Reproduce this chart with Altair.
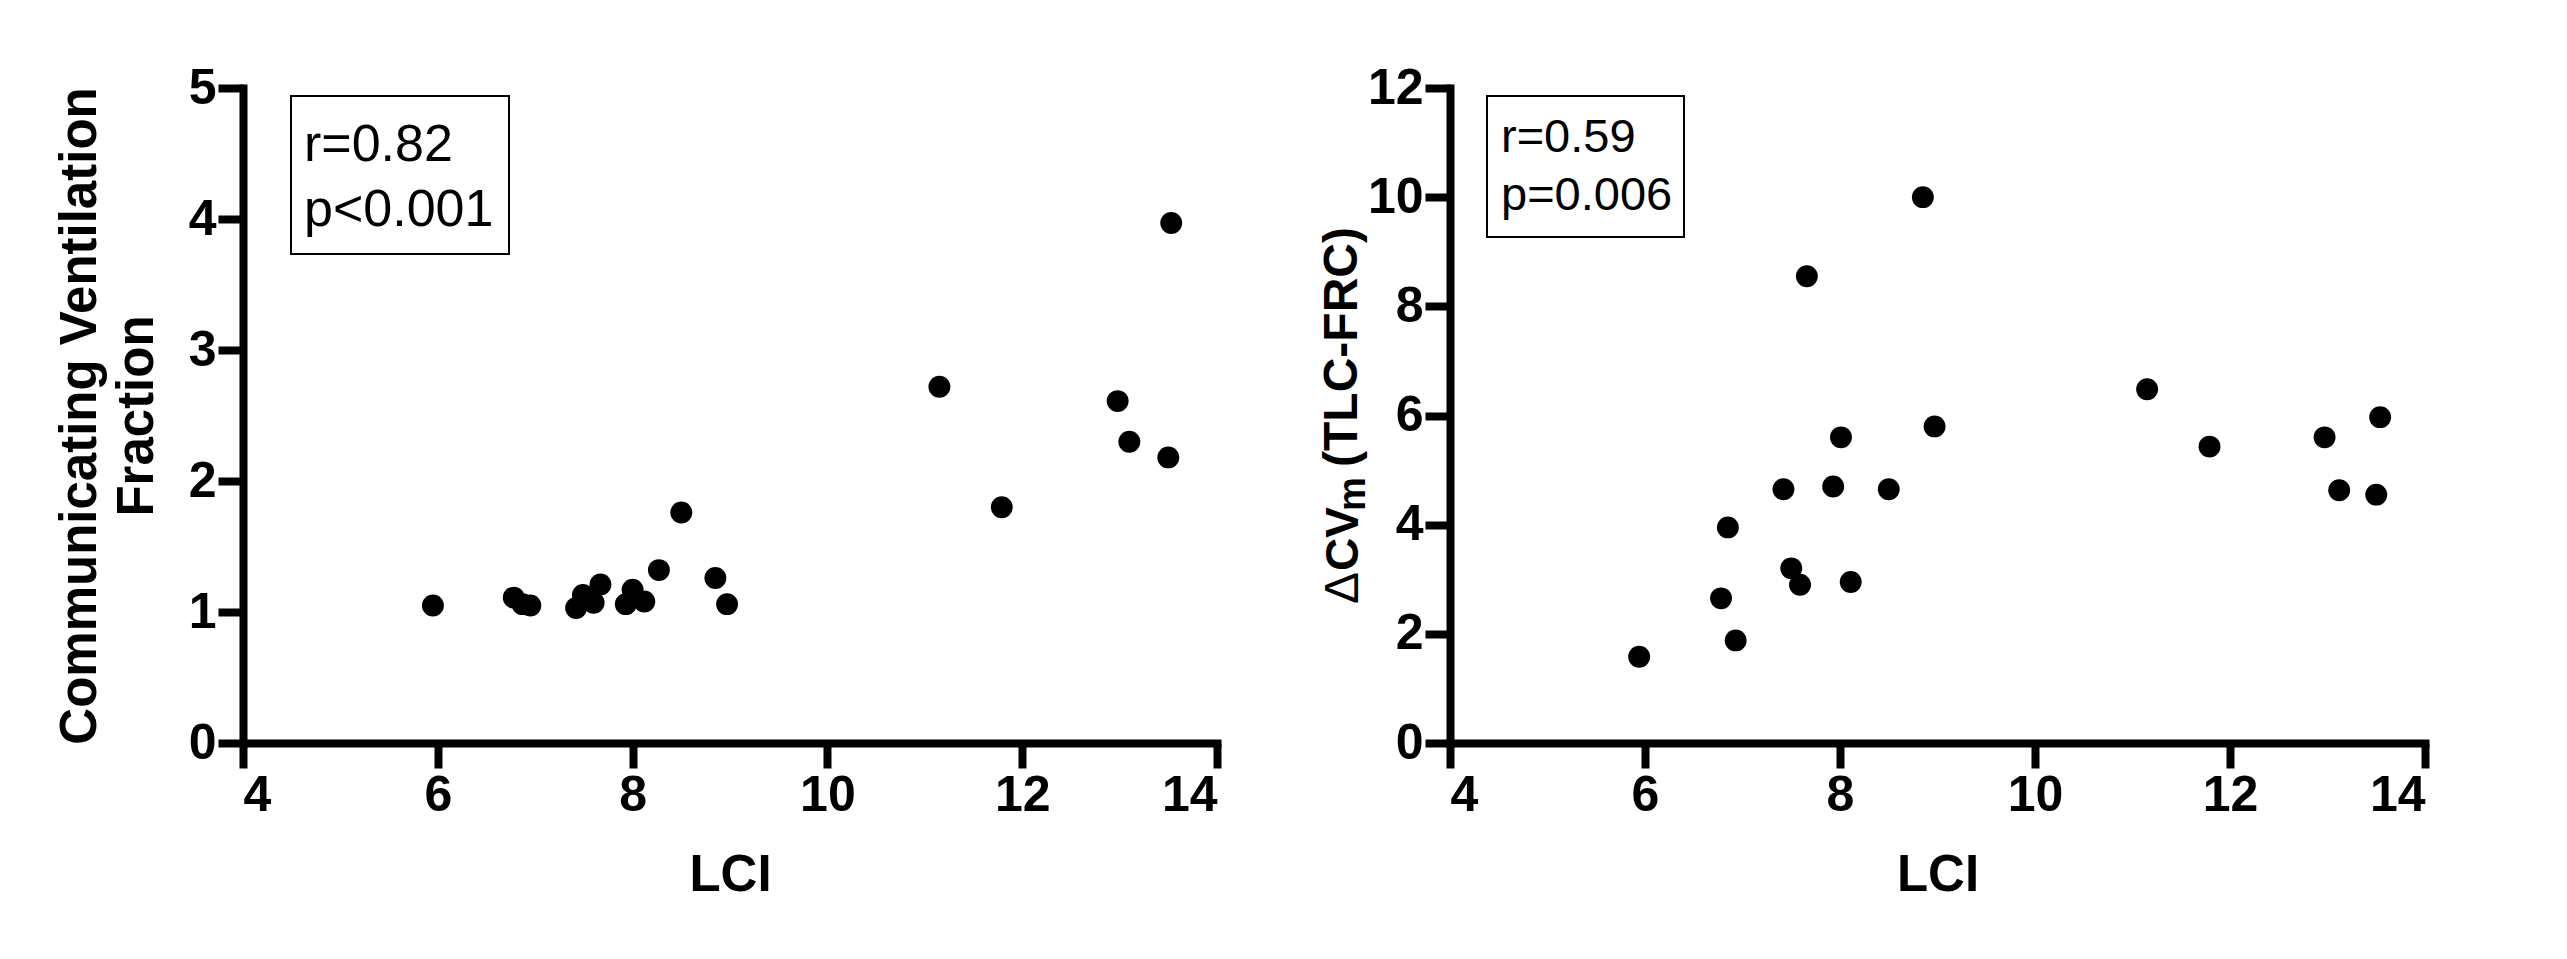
import altair as alt
import pandas as pd

# LCI (shared x)
lci = [5.95, 6.78, 6.87, 6.95, 7.42, 7.49, 7.6, 7.67, 7.93, 8.0, 8.12,
       8.27, 8.5, 8.85, 8.97, 11.15, 11.79, 12.98, 13.1, 13.5, 13.53]
# Communicating ventilation fraction
cvf = [1.05, 1.11, 1.06, 1.05, 1.03, 1.13, 1.07, 1.21, 1.06, 1.17, 1.08,
       1.32, 1.76, 1.26, 1.06, 2.72, 1.80, 2.61, 2.30, 2.18, 3.97]
# LCI values for right panel
lci_r = [5.94, 6.78, 6.85, 6.93, 7.42, 7.5, 7.59, 7.66, 7.93, 8.01, 8.11,
         8.5, 8.85, 8.97, 11.15, 11.79, 12.97, 13.12, 13.5, 13.54]
dcv = [1.58, 2.65, 3.95, 1.88, 4.65, 3.2, 2.9, 8.55, 4.7, 5.6, 2.95,
       4.65, 10.0, 5.8, 6.48, 5.43, 5.6, 4.63, 4.55, 5.97]

left_stats = ["r=0.82", "p<0.001"]
right_stats = ["r=0.59", "p=0.006"]
right_title_parts = ["\u0394", "CV", "m", "(TLC-FRC)"]

FONT = "Liberation Sans"
W_L, W_R, H = 974, 975, 655

df_l = pd.DataFrame({"LCI": lci, "CVF": cvf})
df_r = pd.DataFrame({"LCI": lci_r, "DCV": dcv})

xscale = alt.Scale(domain=[4, 14], nice=False, zero=False)
xaxis = alt.Axis(values=[4, 6, 8, 10, 12, 14], title="LCI", titlePadding=30)


def stats_layer(lines, bx1, bx2, by1, by2, tx, ty, fs, lh):
    box = alt.Chart(pd.DataFrame({"a": [0]})).mark_rect(
        fill=None, stroke="black", strokeWidth=2
    ).encode(x=alt.value(bx1), x2=alt.value(bx2), y=alt.value(by1), y2=alt.value(by2))
    txt = alt.Chart(pd.DataFrame({"t": [lines]})).mark_text(
        align="left", baseline="alphabetic", font=FONT, fontSize=fs,
        lineHeight=lh, color="black"
    ).encode(x=alt.value(tx), y=alt.value(ty), text="t:N")
    return box + txt


def title_part(text, x, y, fs, weight, align):
    return alt.Chart(pd.DataFrame({"t": [text]})).mark_text(
        angle=270, align=align, baseline="alphabetic", font=FONT, fontSize=fs,
        fontWeight=weight, color="black"
    ).encode(x=alt.value(x), y=alt.value(y), text="t:N")


pts_l = alt.Chart(df_l).mark_circle(size=480, color="black", opacity=1).encode(
    x=alt.X("LCI:Q", scale=xscale, axis=xaxis),
    y=alt.Y("CVF:Q", scale=alt.Scale(domain=[0, 5], nice=False),
            axis=alt.Axis(values=[0, 1, 2, 3, 4, 5],
                          title=["Communicating Ventilation", "Fraction"],
                          titlePadding=25, titleLineHeight=57)),
)
left = (pts_l + stats_layer(left_stats, 48, 266, 8, 166, 61, 73, 52, 65)).properties(
    width=W_L, height=H)

pts_r = alt.Chart(df_r).mark_circle(size=480, color="black", opacity=1).encode(
    x=alt.X("LCI:Q", scale=xscale, axis=xaxis),
    y=alt.Y("DCV:Q", scale=alt.Scale(domain=[0, 12], nice=False),
            axis=alt.Axis(values=[0, 2, 4, 6, 8, 10, 12], title=None)),
)
# y title of the right panel, built from parts so that "m" is a subscript
rtitle = (
    title_part(right_title_parts[0], -92, 516, 48, "normal", "left")
    + title_part(right_title_parts[1], -92, 451, 46, "bold", "center")
    + title_part(right_title_parts[2], -85, 406, 38, "bold", "center")
    + title_part(right_title_parts[3], -93, 259, 48, "bold", "center")
)
right = (pts_r + stats_layer(right_stats, 37, 234, 8, 149, 51, 64, 47, 58) + rtitle).properties(
    width=W_R, height=H)

chart = alt.hconcat(left, right, spacing=98).properties(
    padding={"left": 46, "top": 55, "right": 10, "bottom": 10}
).configure_view(stroke=None).configure_axis(
    grid=False, domainColor="black", domainWidth=8, domainCap="square",
    tickColor="black", tickWidth=8, tickSize=25,
    labelFont=FONT, labelFontSize=50, labelFontWeight="bold", labelColor="black",
    labelPadding=2,
    titleFont=FONT, titleFontSize=51, titleFontWeight="bold", titleColor="black",
).configure_concat(spacing=98)

chart.save("out.html", embed_options={"renderer": "svg", "actions": False})
